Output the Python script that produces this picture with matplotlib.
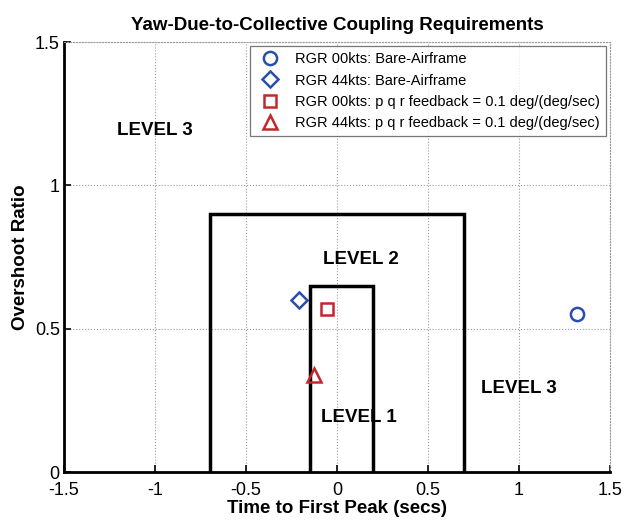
import matplotlib

matplotlib.use("Agg")
import matplotlib.pyplot as plt

plt.rcParams["font.family"] = ["Liberation Sans", "DejaVu Sans"]

# level boundaries (time to first peak, overshoot ratio)
LEVEL1_X = [-0.15, -0.15, 0.2, 0.2]
LEVEL1_Y = [0.0, 0.65, 0.65, 0.0]
LEVEL2_X = [-0.7, -0.7, 0.7, 0.7]
LEVEL2_Y = [0.0, 0.9, 0.9, 0.0]

SERIES_LABELS = [
    "RGR 00kts: Bare-Airframe",
    "RGR 44kts: Bare-Airframe",
    "RGR 00kts: p q r feedback = 0.1 deg/(deg/sec)",
    "RGR 44kts: p q r feedback = 0.1 deg/(deg/sec)",
]
SERIES_X = [1.32, -0.21, -0.055, -0.125]
SERIES_Y = [0.55, 0.60, 0.57, 0.34]
SERIES_MARKERS = ["o", "D", "s", "^"]
SERIES_COLORS = ["#2a4db0", "#2a4db0", "#c0282d", "#c0282d"]
SERIES_SIZES = [9.5, 8, 9, 9.5]

LEVEL_LABELS = ["LEVEL 3", "LEVEL 2", "LEVEL 1", "LEVEL 3"]
LEVEL_LABEL_X = [-1.0, 0.13, 0.12, 1.0]
LEVEL_LABEL_Y = [1.19, 0.74, 0.19, 0.29]

XTICKS = [-1.5, -1, -0.5, 0, 0.5, 1, 1.5]
YTICKS = [0, 0.5, 1, 1.5]


fig = plt.figure(figsize=(6.25, 5.24), dpi=100)
ax = fig.add_axes([0.1024, 0.0992, 0.8736, 0.8206])

ax.plot(LEVEL2_X, LEVEL2_Y, color="black", linewidth=2.5, solid_joinstyle="miter")
ax.plot(LEVEL1_X, LEVEL1_Y, color="black", linewidth=2.5, solid_joinstyle="miter")

for x, y, m, c, s, lab in zip(SERIES_X, SERIES_Y, SERIES_MARKERS, SERIES_COLORS, SERIES_SIZES, SERIES_LABELS):
    ax.plot([x], [y], linestyle="none", marker=m, markersize=s, markerfacecolor="none",
            markeredgecolor=c, markeredgewidth=1.8, label=lab)

for text, x, y in zip(LEVEL_LABELS, LEVEL_LABEL_X, LEVEL_LABEL_Y):
    ax.text(x, y, text, fontsize=13.5, fontweight="bold", ha="center", va="center")

ax.set_xlim(-1.5, 1.5)
ax.set_ylim(0, 1.5)
ax.set_xticks(XTICKS, [f"{t:g}" for t in XTICKS])
ax.set_yticks(YTICKS, [f"{t:g}" for t in YTICKS])
ax.tick_params(direction="in", labelsize=13, length=5, width=1.2)
ax.tick_params(axis="x", pad=7)
ax.tick_params(axis="y", pad=3)
ax.grid(True, linestyle=":", color="#9a9a9a", linewidth=0.8)
for side in ("top", "right"):
    ax.spines[side].set_linestyle(":")
    ax.spines[side].set_color("#9a9a9a")
    ax.spines[side].set_linewidth(0.8)
for side in ("left", "bottom"):
    ax.spines[side].set_linewidth(2)

ax.set_title("Yaw-Due-to-Collective Coupling Requirements", fontsize=13.5, fontweight="bold", pad=9)
ax.set_xlabel("Time to First Peak (secs)", fontsize=13.5, fontweight="bold", labelpad=1)
ax.set_ylabel("Overshoot Ratio", fontsize=13.5, fontweight="bold", labelpad=4)

leg = ax.legend(loc="upper right", fontsize=10.5, fancybox=False, edgecolor="#555555",
                borderaxespad=0.3, handletextpad=0.7, labelspacing=0.5, handlelength=2.0)
leg.get_frame().set_linewidth(0.9)

fig.savefig("out.png", dpi=100)
